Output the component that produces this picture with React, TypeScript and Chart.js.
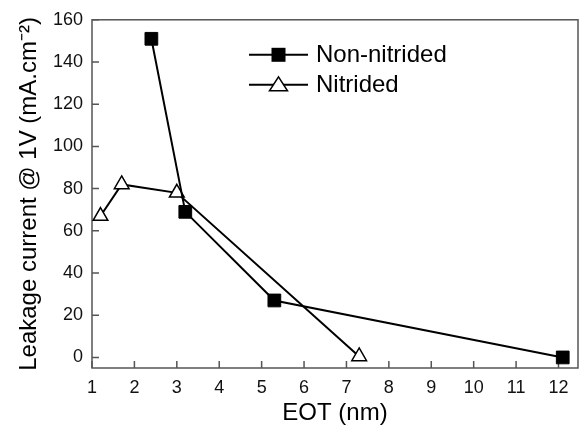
import React, { useEffect, useRef } from "react";
import { Chart, registerables } from "chart.js";

Chart.register(...registerables);

const seriesNames = ["Non-nitrided", "Nitrided"];
const nonNitridedEOT = [2.4, 3.2, 5.3, 12.1];
const nonNitridedLeakage = [151, 69, 27, 0];
const nitridedEOT = [1.2, 1.7, 3.0, 7.3];
const nitridedLeakage = [67, 82, 78, 0.5];
const xTicks = [1, 2, 3, 4, 5, 6, 7, 8, 9, 10, 11, 12];
const yTicks = [0, 20, 40, 60, 80, 100, 120, 140, 160];
const xTitle = "EOT (nm)";
const yTitle = "Leakage current @ 1V (mA.cm\u207B\u00B2)";

const FONT = "'Liberation Sans', Arial, sans-serif";
const AXIS_COLOR = "#555";

const frameTicksPlugin = {
  id: "frameTicks",
  beforeDatasetsDraw(chart: any) {
    const { ctx, chartArea } = chart;
    const xs = chart.scales.x;
    const ys = chart.scales.y;
    ctx.save();
    ctx.strokeStyle = AXIS_COLOR;
    ctx.lineWidth = 1.5;
    ctx.strokeRect(chartArea.left, chartArea.top, chartArea.right - chartArea.left, chartArea.bottom - chartArea.top);
    ctx.beginPath();
    xTicks.forEach((v) => {
      const px = xs.getPixelForValue(v);
      ctx.moveTo(px, chartArea.bottom);
      ctx.lineTo(px, chartArea.bottom - 7);
    });
    yTicks.forEach((v) => {
      const py = ys.getPixelForValue(v);
      ctx.moveTo(chartArea.left, py);
      ctx.lineTo(chartArea.left + 7, py);
    });
    ctx.stroke();
    ctx.restore();
  },
};

const legendPlugin = {
  id: "customLegend",
  afterDraw(chart: any) {
    const { ctx, chartArea } = chart;
    ctx.save();
    chart.data.datasets.forEach((ds: any, i: number) => {
      const y = chartArea.top + 35 + 30 * i;
      const x0 = chartArea.left + 157;
      const x1 = chartArea.left + 216;
      const xm = (x0 + x1) / 2;
      ctx.strokeStyle = "#000";
      ctx.lineWidth = 2;
      ctx.beginPath();
      ctx.moveTo(x0, y);
      ctx.lineTo(x1, y);
      ctx.stroke();
      ctx.lineWidth = 1.5;
      if (ds.pointStyle === "rect") {
        ctx.fillStyle = "#000";
        ctx.fillRect(xm - 7, y - 7, 14, 14);
      } else {
        ctx.fillStyle = "#fff";
        ctx.beginPath();
        ctx.moveTo(xm, y - 8);
        ctx.lineTo(xm + 9, y + 6);
        ctx.lineTo(xm - 9, y + 6);
        ctx.closePath();
        ctx.fill();
        ctx.stroke();
      }
      ctx.fillStyle = "#000";
      ctx.font = `24px ${FONT}`;
      ctx.textAlign = "left";
      ctx.textBaseline = "middle";
      ctx.fillText(ds.label, chartArea.left + 224, y + 1);
    });
    ctx.restore();
  },
};

export default function App() {
  const ref = useRef<HTMLCanvasElement | null>(null);
  useEffect(() => {
    if (!ref.current) return;
    const chart = new Chart(ref.current, {
      type: "scatter",
      data: {
        datasets: [
          {
            label: seriesNames[0],
            data: nonNitridedEOT.map((x, i) => ({ x, y: nonNitridedLeakage[i] })),
            showLine: true,
            borderColor: "#000",
            borderWidth: 2,
            pointStyle: "rect",
            pointRadius: 9,
            pointBackgroundColor: "#000",
            pointBorderColor: "#000",
            pointBorderWidth: 1,
          },
          {
            label: seriesNames[1],
            data: nitridedEOT.map((x, i) => ({ x, y: nitridedLeakage[i] })),
            showLine: true,
            borderColor: "#000",
            borderWidth: 2,
            pointStyle: "triangle",
            pointRadius: 8.5,
            pointBackgroundColor: "#fff",
            pointBorderColor: "#000",
            pointBorderWidth: 1.5,
          },
        ],
      },
      options: {
        responsive: false,
        animation: false,
        devicePixelRatio: 1,
        layout: { padding: { top: 17, right: 1, left: 0, bottom: 0 } },
        plugins: {
          legend: { display: false },
          tooltip: { enabled: false },
        },
        scales: {
          x: {
            type: "linear",
            min: 1,
            max: 12.46,
            afterBuildTicks: (s: any) => {
              s.ticks = xTicks.map((v) => ({ value: v }));
            },
            afterFit: (s: any) => {
              s.height = 62;
            },
            grid: { display: false, drawTicks: false },
            border: { display: false },
            ticks: {
              autoSkip: false,
              maxRotation: 0,
              padding: 9,
              color: "#111",
              font: { family: FONT, size: 18 },
            },
            title: {
              display: true,
              text: xTitle,
              color: "#000",
              font: { family: FONT, size: 24 },
              padding: { top: 0, bottom: 2 },
            },
          },
          y: {
            type: "linear",
            min: -5,
            max: 160,
            afterBuildTicks: (s: any) => {
              s.ticks = yTicks.map((v) => ({ value: v }));
            },
            afterFit: (s: any) => {
              s.width = 92;
            },
            grid: { display: false, drawTicks: false },
            border: { display: false },
            ticks: {
              autoSkip: false,
              padding: 9,
              color: "#111",
              font: { family: FONT, size: 18 },
            },
            title: {
              display: true,
              text: yTitle,
              color: "#000",
              font: { family: FONT, size: 24 },
              padding: { top: 15, bottom: 0 },
            },
          },
        },
      },
      plugins: [frameTicksPlugin, legendPlugin],
    });
    return () => chart.destroy();
  }, []);
  return (
    <div style={{ position: "fixed", left: 0, top: 0, width: 588, height: 430, background: "#fff" }}>
      <canvas ref={ref} width={588} height={430} />
    </div>
  );
}
